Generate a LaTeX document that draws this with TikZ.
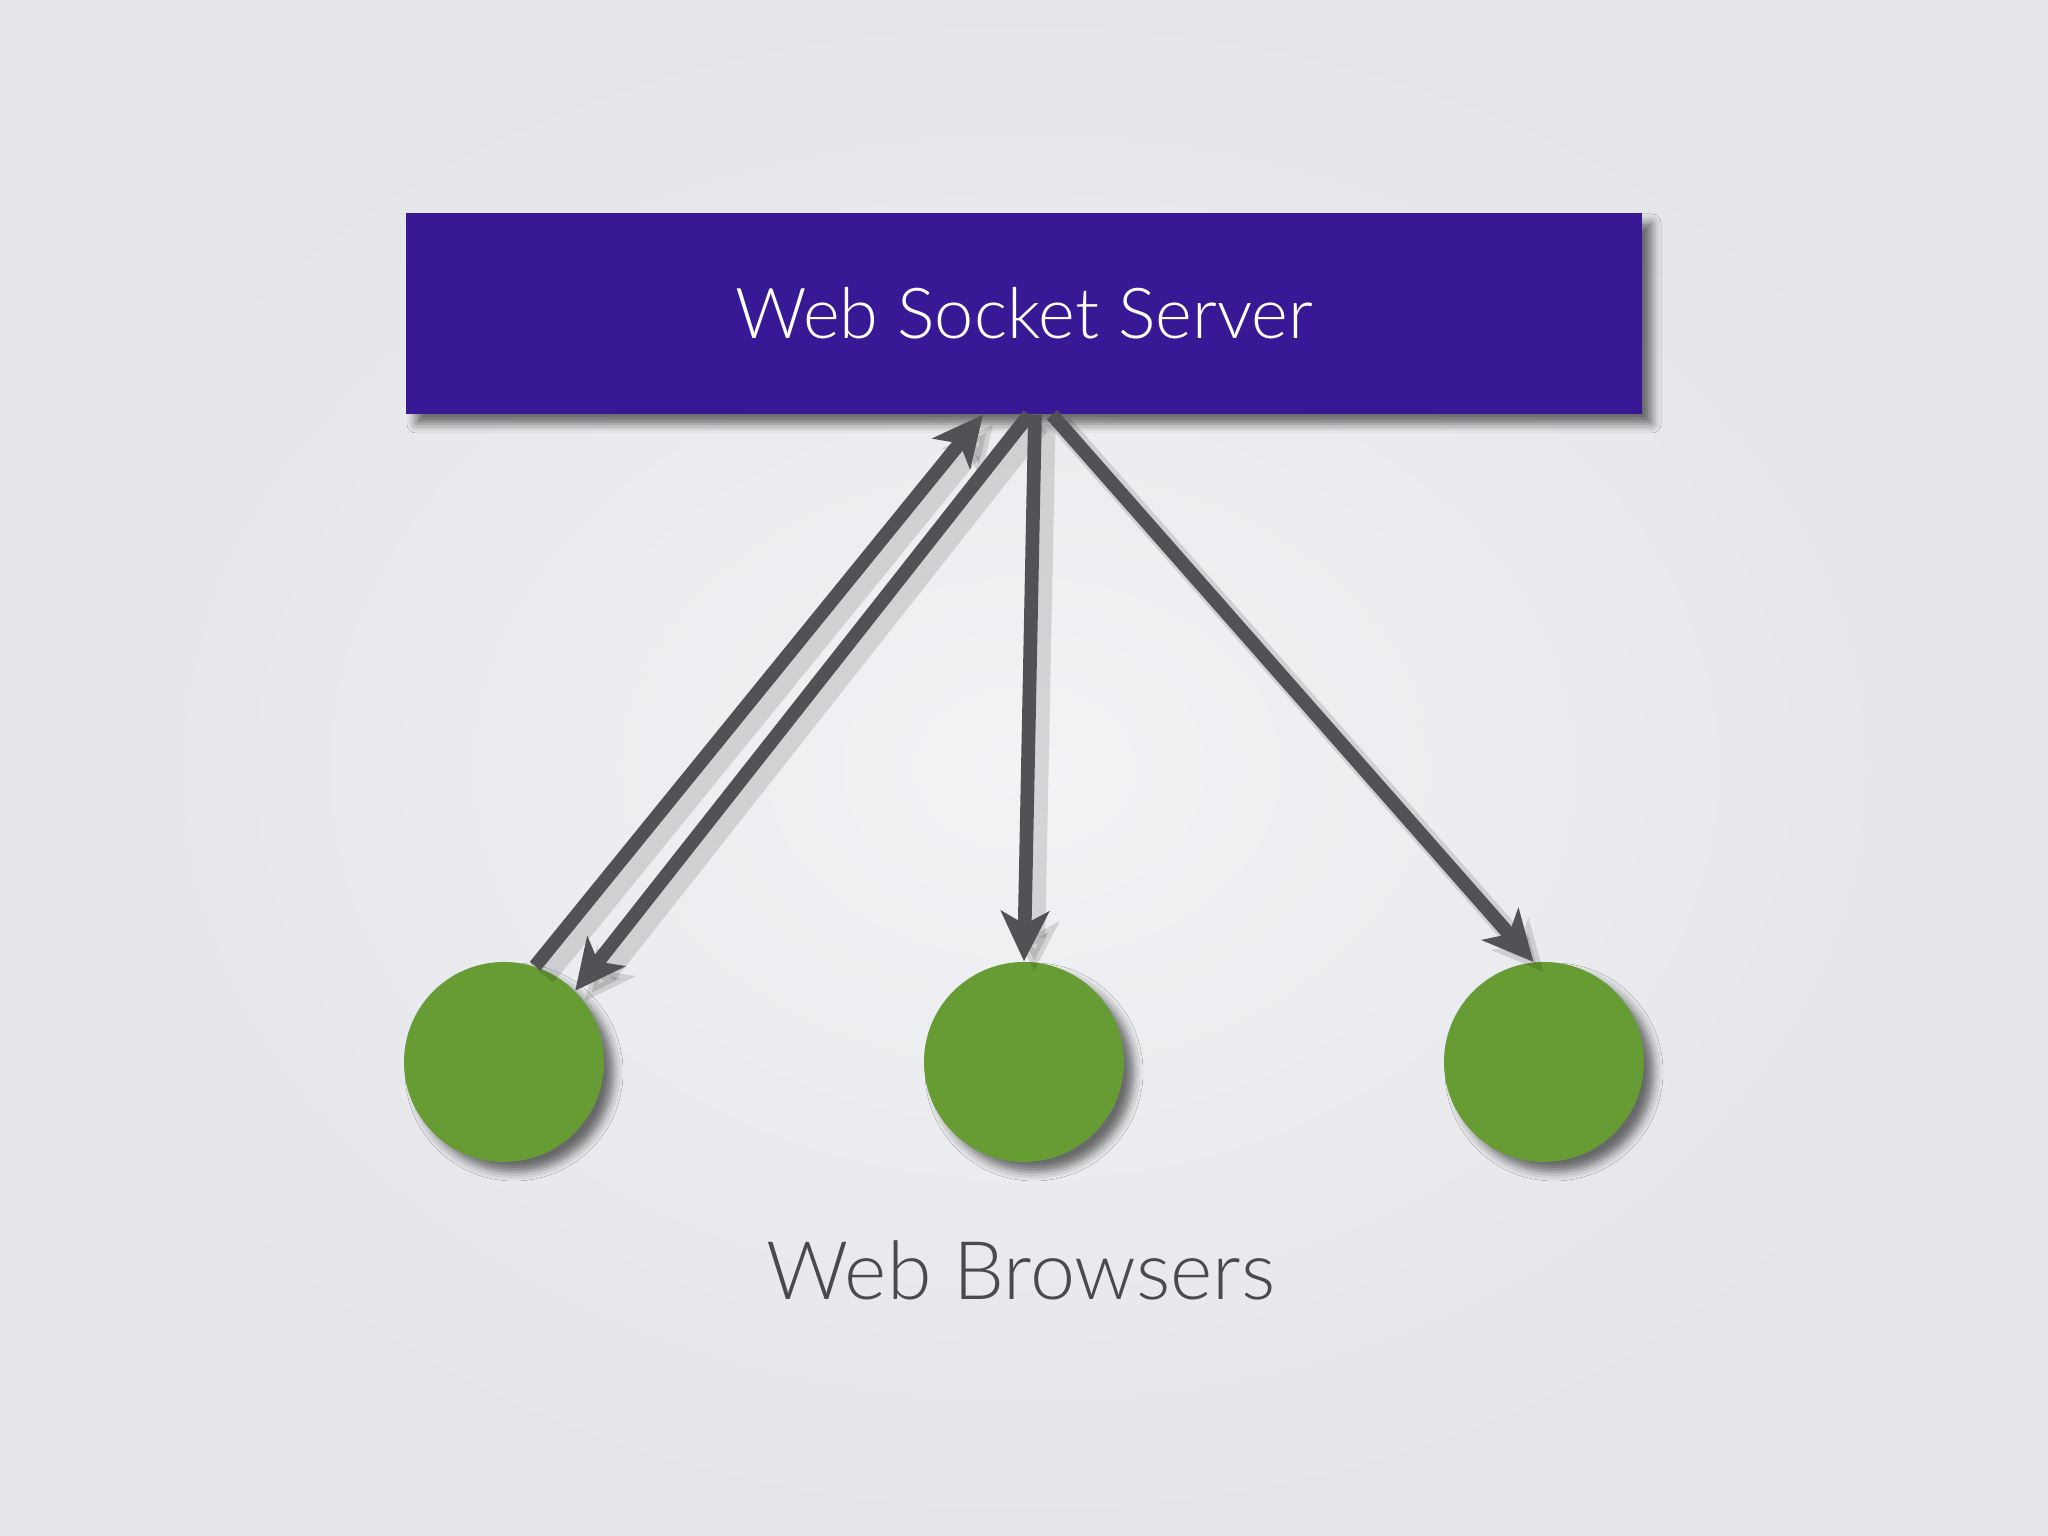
\documentclass[tikz,border=0pt]{standalone}
\usepackage{fontspec}
\setmainfont{Lato}[UprightFont={* Light}]
\usepackage{tikz}
\usetikzlibrary{arrows.meta,shadows.blur}

\definecolor{serverblue}{RGB}{55,25,150}
\definecolor{browsergreen}{RGB}{103,155,51}
\definecolor{linkgray}{RGB}{82,82,86}
\definecolor{labelgray}{RGB}{74,74,78}
\definecolor{bginner}{RGB}{242,243,245}
\definecolor{bgouter}{RGB}{228,229,233}

\begin{document}
\begin{tikzpicture}
	[server/.style={fill=serverblue, minimum width=12.36cm, minimum height=2.01cm, inner sep=0pt,
		blur shadow={shadow xshift=1mm, shadow yshift=-1mm, shadow blur radius=0.9mm, shadow opacity=55}},
	 browser/.style={circle, fill=browsergreen, minimum size=2cm, inner sep=0pt,
		blur shadow={shadow xshift=1mm, shadow yshift=-1mm, shadow blur radius=0.9mm, shadow opacity=55}},
	 link/.style={draw=linkgray, line width=3.9pt, -{Stealth[length=5mm,width=4.8mm,inset=1.3mm]},
		preaction={draw=black, opacity=0.12, line width=6pt,
			transform canvas={xshift=1mm, yshift=-1mm}}}]
	% background
	\useasboundingbox (0,0) rectangle (20.48,15.36);
	\shade[inner color=bginner, outer color=bgouter] (0,0) rectangle (20.48,15.36);
	% server
	\node[server] (wss) at (10.24,12.225) {};
	\draw node[text=white, font=\fontsize{20}{24}\selectfont] at (wss) {Web Socket Server};
	% browsers
	\foreach \x/\name in {5.04/b1, 10.24/b2, 15.44/b3}
		\node[browser] (\name) at (\x,4.74) {};
	% text
	\draw node[text=labelgray, font=\fontsize{23}{28}\selectfont] (lbl) at (10.21,2.66) {Web Browsers};
	% links
	\draw[link] (b1.72) -- ([xshift=-0.41cm]wss.south);
	\draw[link] ([xshift=0.05cm]wss.south) -- (b1.45);
	\draw[link] ([xshift=0.11cm]wss.south) -- (b2.north);
	\draw[link] ([xshift=0.28cm]wss.south) -- (b3.96);
\end{tikzpicture}
\end{document}
